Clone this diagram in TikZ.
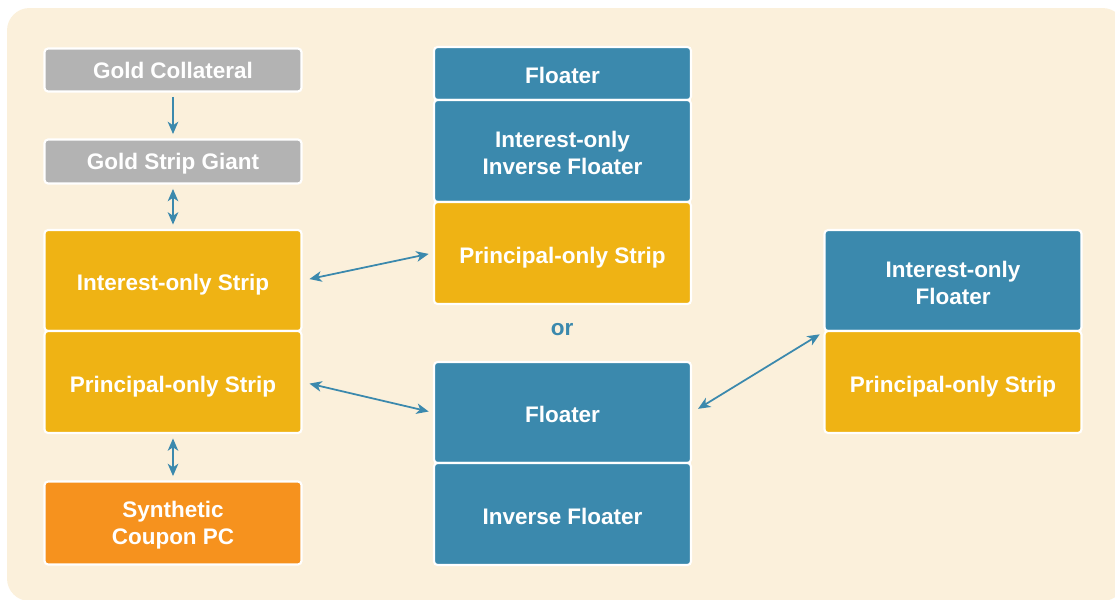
\documentclass[tikz,border=0pt]{standalone}
\usepackage{fontspec}
\setmainfont{Liberation Sans}
\usetikzlibrary{arrows.meta}
\definecolor{cream}{HTML}{FBF0DB}
\definecolor{gld}{HTML}{B3B3B3}
\definecolor{strp}{HTML}{EFB314}
\definecolor{flt}{HTML}{3B89AD}
\definecolor{syn}{HTML}{F6921E}
\tikzset{
  box/.style={draw=white, line width=1.2pt, rounded corners=2pt, text=white, align=center,
    minimum width=5.14cm, inner sep=2pt, text height=11.6pt, text depth=0pt,
    font=\bfseries\fontsize{12.8}{15.4}\selectfont},
  two/.style={text height=27.2pt, text depth=0pt},
  hd/.tip={Stealth[length=7pt, width=6pt, inset=2pt]}}

\begin{document}
\begin{tikzpicture}[x=0.02cm, y=-0.02cm,
  lnk/.style={draw=flt, line width=1pt, shorten >=2.5pt, shorten <=2.5pt}]
\clip (0,0) rectangle (1115,599);
\fill[cream, rounded corners=0.45cm] (7,8) rectangle (1125,601);
% left column
\node[box, fill=gld, minimum height=0.86cm, text height=9.2pt] (gc) at (173,70) {Gold Collateral};
\node[box, fill=gld, minimum height=0.88cm, text height=9.2pt] (gsg) at (173,161.5) {Gold Strip Giant};
\node[box, fill=strp, minimum height=2.02cm] (ios) at (173,280.5) {Interest-only Strip};
\node[box, fill=strp, minimum height=2.04cm] (pos) at (173,382) {Principal-only Strip};
\node[box, two, fill=syn, minimum height=1.66cm, text height=24.6pt] (scp) at (173,523) {Synthetic\\Coupon PC};
% middle column
\node[box, fill=flt, minimum height=1.06cm] (fl1) at (562.5,73.5) {Floater};
\node[box, two, fill=flt, minimum height=2.04cm] (iif) at (562.5,151) {Interest-only\\Inverse Floater};
\node[box, fill=strp, minimum height=2.04cm] (pos2) at (562.5,253) {Principal-only Strip};
\node[text=flt, font=\bfseries\fontsize{12.8}{15.4}\selectfont, inner sep=0pt] (or) at (562,330) {or};
\node[box, fill=flt, minimum height=2.02cm] (fl2) at (562.5,412.5) {Floater};
\node[box, fill=flt, minimum height=2.04cm] (inv) at (562.5,514) {Inverse Floater};
% right column
\node[box, two, fill=flt, minimum height=2.02cm] (iof) at (953,280.5) {Interest-only\\Floater};
\node[box, fill=strp, minimum height=2.04cm] (pos3) at (953,382) {Principal-only Strip};
% links
\draw[lnk, -hd] (gc) -- (gsg);
\foreach \a/\b in {gsg/ios, pos/scp}
  \draw[lnk, hd-hd] (\a) -- (\b);
\foreach \a/\b in {ios.east/pos2.west, pos.east/fl2.west, fl2.east/iof.south west}
  \draw[lnk, shorten <=4pt, hd-hd] (\a) -- (\b);
\end{tikzpicture}
\end{document}
